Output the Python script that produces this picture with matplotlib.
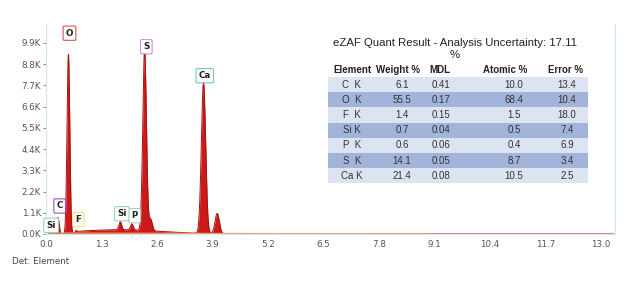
import numpy as np
import matplotlib.pyplot as plt

# peaks: energy (keV), counts (K), sigma (keV)
peak_kev = [0.18, 0.28, 0.525, 0.68, 1.74, 2.01, 2.31, 2.45, 3.69, 4.01]
peak_cts = [0.3, 0.85, 9.3, 0.1, 0.42, 0.32, 9.4, 0.6, 7.8, 1.05]
peak_sig = [0.025, 0.028, 0.032, 0.02, 0.032, 0.032, 0.042, 0.04, 0.05, 0.05]
# broad continuum hump
bg_center, bg_height, bg_width = 1.7, 0.22, 1.0

labels = ["Si", "C", "O", "F", "Si", "P", "S", "Ca"]
label_x = [0.12, 0.32, 0.55, 0.76, 1.78, 2.08, 2.35, 3.72]
label_y = [0.45, 1.45, 10.4, 0.75, 1.05, 0.95, 9.7, 8.2]
label_edge = ["#9fd4b0", "#a050c0", "#e05050", "#f0e080", "#9fd4b0", "#9fd4b0", "#d090e0", "#70c8c8"]

xticks = [0.0, 1.3, 2.6, 3.9, 5.2, 6.5, 7.8, 9.1, 10.4, 11.7, 13.0]
yticks = [0.0, 1.1, 2.2, 3.3, 4.4, 5.5, 6.6, 7.7, 8.8, 9.9]

table_cols = ["Element", "Weight %", "MDL", "Atomic %", "Error %"]
elements = ["C  K", "O  K", "F  K", "Si K", "P  K", "S  K", "Ca K"]
weight = ["6.1", "55.5", "1.4", "0.7", "0.6", "14.1", "21.4"]
mdl = ["0.41", "0.17", "0.15", "0.04", "0.06", "0.05", "0.08"]
atomic = ["10.0", "68.4", "1.5", "0.5", "0.4", "8.7", "10.5"]
error = ["13.4", "10.4", "18.0", "7.4", "6.9", "3.4", "2.5"]

e = np.linspace(0.05, 13.3, 4000)
counts = bg_height * np.exp(-0.5 * ((e - bg_center) / bg_width) ** 2) * (e > 0.7)
for c, h, s in zip(peak_kev, peak_cts, peak_sig):
    counts = counts + h * np.exp(-0.5 * ((e - c) / s) ** 2)

fig = plt.figure(figsize=(6.37, 2.85), dpi=100)
ax = fig.add_axes([0.0722, 0.179, 0.8933, 0.737])
ax.fill_between(e, 0, counts, color="#cc1a1a", lw=0)
ax.plot(e, counts, color="#a81010", lw=0.7)
ax.plot([0.1, 9.0], [0.05, 0.0], color="#f0a060", lw=0.9)
ax.set_xlim(0, 13.33)
ax.set_ylim(0, 10.88)
ax.set_xticks(xticks)
ax.set_xticklabels([f"{t:.1f}" for t in xticks])
ax.set_yticks(yticks)
ax.set_yticklabels([f"{t:.1f}K" for t in yticks])
ax.tick_params(labelsize=6.3, colors="#555555", length=2, width=0.5, pad=1.5)
ax.tick_params(axis="x", length=0, pad=4)
for sp in ["left", "right", "bottom"]:
    ax.spines[sp].set_color("#cfe9f0")
    ax.spines[sp].set_linewidth(0.8)
ax.spines["top"].set_visible(False)

for t, x, y, ec in zip(labels, label_x, label_y, label_edge):
    ax.text(x, y, t, fontsize=6.3, ha="center", va="center", color="#222222", fontweight="bold",
            bbox=dict(boxstyle="round,pad=0.3,rounding_size=0.15", fc="white", ec=ec, lw=0.8))

# quant table drawn in figure pixels
W, H = 637, 285
def fx(px):
    return px / W
def fy(py):
    return 1 - py / H

fig.text(fx(455), fy(43), "eZAF Quant Result - Analysis Uncertainty: 17.11", fontsize=8.2,
         family="Liberation Sans", ha="center", va="center", color="#222222")
fig.text(fx(455), fy(55), "%", fontsize=8.2, family="Liberation Sans", ha="center", va="center", color="#222222")

head_x = [352, 398, 440, 505, 565]
col_x = [352, 402, 441, 514, 567]
for cx, name in zip(head_x, table_cols):
    fig.text(fx(cx), fy(70), name, fontsize=7, fontweight="bold", family="Liberation Sans",
             ha="center", va="center", color="#222222")

row_top = 77
row_h = 15.2
for i in range(len(elements)):
    y0 = row_top + i * row_h
    fc = "#dde4f1" if i % 2 == 0 else "#a3b4da"
    fig.patches.append(plt.Rectangle((fx(328), fy(y0 + row_h)), fx(588) - fx(328), row_h / H,
                                     transform=fig.transFigure, fc=fc, ec="none", zorder=0))
    vals = [elements[i], weight[i], mdl[i], atomic[i], error[i]]
    for cx, v in zip(col_x, vals):
        fig.text(fx(cx), fy(y0 + row_h / 2), v, fontsize=7, family="Liberation Sans",
                 ha="center", va="center", color="#333333")

fig.text(fx(12), fy(261), "Det: Element", fontsize=6.3, color="#444444", va="center")

fig.savefig("out.png", dpi=100)
